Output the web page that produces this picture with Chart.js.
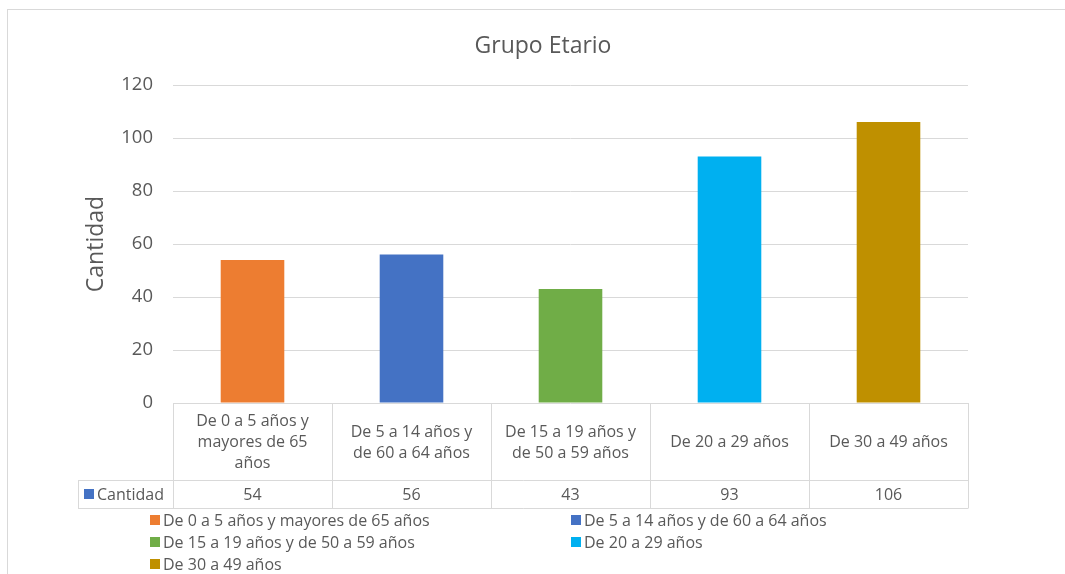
<!DOCTYPE html>
<html>
<head>
<meta charset="utf-8">
<script src="https://cdn.jsdelivr.net/npm/chart.js@4.4.1/dist/chart.umd.min.js"></script>
<style>
  html, body { margin: 0; padding: 0; background: #fff; }
  canvas { display: block; }
</style>
</head>
<body>
<canvas id="grupoChart" width="1065" height="574"></canvas>
<script>
// --- DONNEES ---
const categorias = [
    ["De 0 a 5 años y", "mayores de 65", "años"],
    ["De 5 a 14 años y", "de 60 a 64 años"],
    ["De 15 a 19 años y", "de 50 a 59 años"],
    ["De 20 a 29 años"],
    ["De 30 a 49 años"]
];
const cantidad = [54, 56, 43, 93, 106];
const colores = ["#ED7D31", "#4472C4", "#70AD47", "#00B0F0", "#BF9000"];
const nombreSerie = "Cantidad";

const FONT = "'Open Sans', 'Liberation Sans', sans-serif";
const TXT = "#595959";
const LINE = "#d9d9d9";

// --- TABLE DE DONNEES + LEGENDE + CADRE ---
const tablaPlugin = {
    id: "tabla",
    afterDraw(chart) {
        const ctx = chart.ctx;
        const x = chart.scales.x;
        const area = chart.chartArea;
        const top = area.bottom;
        const mid = top + 77;
        const bot = mid + 28;
        const leftCol = 78;
        const n = categorias.length;
        const half = (x.getPixelForValue(1) - x.getPixelForValue(0)) / 2;

        ctx.save();
        // cadre
        ctx.strokeStyle = LINE;
        ctx.lineWidth = 1;
        ctx.strokeRect(7.5, 9.5, 1070, 600);

        // lignes du tableau
        ctx.beginPath();
        for (let i = 0; i <= n; i++) {
            const px = Math.round(i < n ? x.getPixelForValue(i) - half : x.getPixelForValue(n - 1) + half) + 0.5;
            ctx.moveTo(px, top);
            ctx.lineTo(px, bot);
        }
        ctx.moveTo(leftCol + 0.5, mid);
        ctx.lineTo(leftCol + 0.5, bot);
        const right = Math.round(x.getPixelForValue(n - 1) + half) + 0.5;
        ctx.moveTo(leftCol, mid + 0.5);
        ctx.lineTo(right, mid + 0.5);
        ctx.moveTo(leftCol, bot + 0.5);
        ctx.lineTo(right, bot + 0.5);
        ctx.stroke();

        // textes des categories
        ctx.fillStyle = TXT;
        ctx.font = "16px " + FONT;
        ctx.textAlign = "center";
        ctx.textBaseline = "middle";
        const lh = 21;
        categorias.forEach((lines, i) => {
            const cx = x.getPixelForValue(i);
            const cy = (top + mid) / 2 + 1;
            const start = cy - (lines.length - 1) * lh / 2;
            lines.forEach((t, j) => ctx.fillText(t, cx, start + j * lh));
            ctx.fillText(String(cantidad[i]), cx, (mid + bot) / 2 + 1);
        });

        // entete de serie
        ctx.fillStyle = "#4472C4";
        ctx.fillRect(84, (mid + bot) / 2 - 5, 10, 10);
        ctx.fillStyle = TXT;
        ctx.textAlign = "left";
        ctx.fillText(nombreSerie, 97, (mid + bot) / 2 + 1);

        // legende
        const colX = [150, 571];
        const rowY = [520, 542, 564];
        categorias.forEach((lines, i) => {
            const lx = colX[i % 2];
            const ly = rowY[Math.floor(i / 2)];
            ctx.fillStyle = colores[i];
            ctx.fillRect(lx, ly - 5, 10, 10);
            ctx.fillStyle = TXT;
            ctx.fillText(lines.join(" "), lx + 13, ly + 1);
        });
        ctx.restore();
    }
};

const ctx = document.getElementById("grupoChart").getContext("2d");
new Chart(ctx, {
    type: "bar",
    data: {
        labels: categorias,
        datasets: [{
            label: nombreSerie,
            data: cantidad,
            backgroundColor: colores,
            categoryPercentage: 1,
            barPercentage: 0.4
        }]
    },
    options: {
        responsive: false,
        animation: false,
        layout: { padding: { left: 21, right: 0, top: 0, bottom: 171 } },
        plugins: {
            legend: { display: false },
            tooltip: { enabled: false },
            title: {
                display: true,
                text: "Grupo Etario",
                color: TXT,
                font: { family: FONT, size: 23, weight: "normal" },
                padding: { top: 33, bottom: 24.4 }
            }
        },
        scales: {
            x: { display: false },
            y: {
                min: 0,
                max: 120,
                ticks: {
                    stepSize: 20,
                    color: TXT,
                    padding: 20,
                    font: { family: FONT, size: 18.5 }
                },
                grid: { color: LINE, drawTicks: false },
                border: { display: false },
                title: {
                    display: true,
                    text: "Cantidad",
                    color: TXT,
                    font: { family: FONT, size: 23 },
                    padding: { top: 62, bottom: 0 }
                },
                afterFit(scale) { scale.width = 152; }
            },
            // axe vide a droite pour garder la marge
            marge: {
                type: "linear",
                position: "right",
                ticks: { display: false },
                grid: { display: false },
                border: { display: false },
                afterFit(scale) { scale.width = 97; }
            }
        }
    },
    plugins: [tablaPlugin]
});
</script>
</body>
</html>
